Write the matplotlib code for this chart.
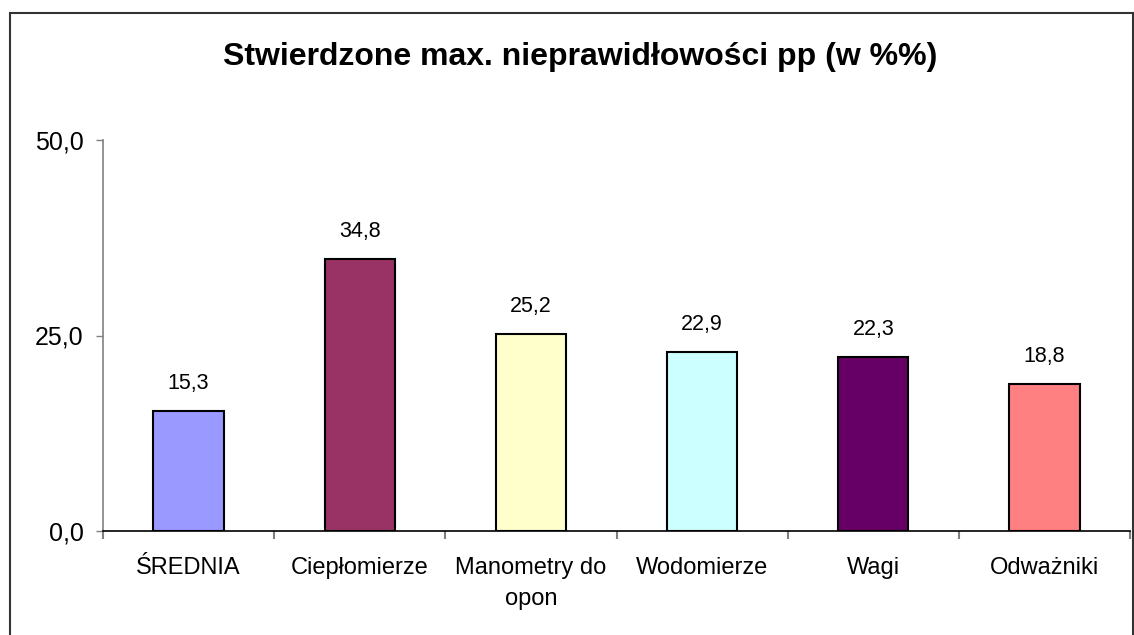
import matplotlib
matplotlib.use("Agg")
import matplotlib.pyplot as plt
from matplotlib.patches import Rectangle

categories = ["ŚREDNIA", "Ciepłomierze", "Manometry do\nopon", "Wodomierze", "Wagi", "Odważniki"]
values = [15.3, 34.8, 25.2, 22.9, 22.3, 18.8]
colors = ["#9999FF", "#993366", "#FFFFCC", "#CCFFFF", "#660066", "#FF8080"]
yticks = [0, 25, 50]

plt.rcParams["font.family"] = ["Liberation Sans", "DejaVu Sans"]

fig = plt.figure(figsize=(11.34, 6.35), dpi=100)
ax = fig.add_axes([103 / 1134, 1 - 531 / 635, (1130 - 103) / 1134, (531 - 140) / 635])

x = range(len(categories))
bars = ax.bar(x, values, width=0.41, color=colors, edgecolor="black", linewidth=1.5)

for i, v in enumerate(values):
    ax.annotate(f"{v:.1f}".replace(".", ","), (i, v), xytext=(0, 17),
                textcoords="offset pixels", ha="center", va="bottom", fontsize=15.5)

ax.set_xlim(-0.5, len(categories) - 0.5)
ax.set_ylim(0, 50)
ax.set_yticks(yticks)
ax.set_yticklabels([f"{t:.1f}".replace(".", ",") for t in yticks], fontsize=18)
ax.tick_params(axis="y", direction="out", length=5, width=1, color="#808080", pad=9)

# ticks between categories, labels centred on the bars
ax.set_xticks([i - 0.5 for i in range(len(categories) + 1)])
ax.set_xticklabels([])
ax.set_xticks(list(x), minor=True)
ax.set_xticklabels(categories, minor=True, fontsize=17, linespacing=1.5)
ax.tick_params(axis="x", which="major", direction="out", length=6, width=1.5, color="#808080")
ax.tick_params(axis="x", which="minor", length=0, pad=19)
for lbl in ax.get_xticklabels(minor=True):
    lbl.set_verticalalignment("top")

ax.spines["top"].set_visible(False)
ax.spines["right"].set_visible(False)
ax.spines["left"].set_color("#808080")
ax.spines["left"].set_linewidth(1.2)
ax.spines["bottom"].set_color("black")
ax.spines["bottom"].set_linewidth(1.2)

fig.text(580 / 1134, 1 - 57 / 635, "Stwierdzone max. nieprawidłowości pp (w %%)",
         ha="center", va="center", fontsize=23, fontweight="bold")

# chart area frame
fig.patches.append(Rectangle((10 / 1134, -0.1), (1133 - 10) / 1134, 1.1 - 13 / 635,
                             transform=fig.transFigure, fill=False,
                             edgecolor="#333333", linewidth=1.5))

fig.savefig("out.png", dpi=100)
